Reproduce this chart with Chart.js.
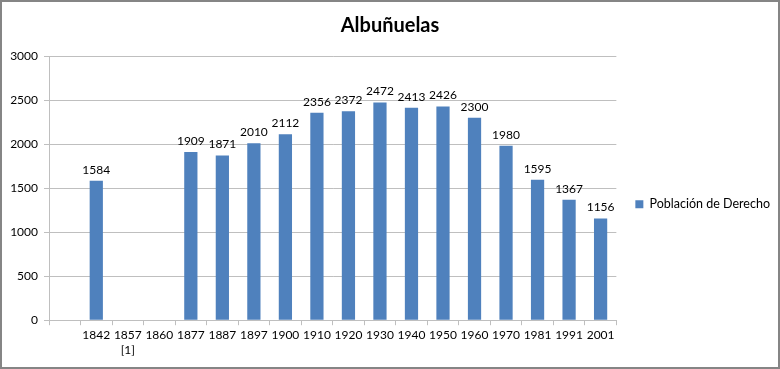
<!DOCTYPE html>
<html><head><meta charset="utf-8">
<script src="https://cdn.jsdelivr.net/npm/chart.js@4/dist/chart.umd.min.js"></script>
<style>html,body{margin:0;padding:0;background:#fff}#wrap{width:780px;height:369px;position:relative}</style>
</head><body><div id="wrap"><canvas id="c" width="780" height="369"></canvas></div>
<script>
const categories = ["", "1842", ["1857","[1]"], "1860", "1877", "1887", "1897", "1900", "1910", "1920", "1930", "1940", "1950", "1960", "1970", "1981", "1991", "2001"];
const poblacion = [null, 1584, null, null, 1909, 1871, 2010, 2112, 2356, 2372, 2472, 2413, 2426, 2300, 1980, 1595, 1367, 1156];
const yTicks = [0, 500, 1000, 1500, 2000, 2500, 3000];
const seriesName = "Población de Derecho";
const titleText = "Albuñuelas";

const FONT = "Lato, 'Open Sans', sans-serif";

const labelsPlugin = {
  id: 'valueLabels',
  afterDatasetsDraw(chart) {
    const ctx = chart.ctx;
    const meta = chart.getDatasetMeta(0);
    ctx.save();
    ctx.font = "12px " + FONT;
    ctx.fillStyle = "#000";
    ctx.textAlign = "center";
    ctx.textBaseline = "bottom";
    meta.data.forEach((el, i) => {
      const v = poblacion[i];
      if (v == null) return;
      ctx.fillText(String(v), el.x, el.y - 5);
    });
    ctx.restore();
  }
};
const borderPlugin = {
  id: 'outerBorder',
  beforeDraw(chart) {
    const ctx = chart.ctx;
    ctx.save();
    ctx.fillStyle = "#fff";
    ctx.fillRect(0, 0, chart.width, chart.height);
    ctx.restore();
  },
  afterDraw(chart) {
    const ctx = chart.ctx;
    ctx.save();
    ctx.strokeStyle = "#858585";
    ctx.lineWidth = 2;
    ctx.strokeRect(1, 1, chart.width - 2, chart.height - 2);
    ctx.restore();
  }
};

new Chart(document.getElementById('c'), {
  type: 'bar',
  data: {
    labels: categories,
    datasets: [{
      label: seriesName,
      data: poblacion,
      backgroundColor: '#4F81BD',
      borderWidth: 0,
      categoryPercentage: 1,
      barPercentage: 0.42
    }]
  },
  options: {
    responsive: false,
    animation: false,
    devicePixelRatio: 1,
    layout: { padding: { left: 0, right: 0, top: 10, bottom: 9 } },
    plugins: {
      title: { display: true, text: titleText, color: '#000', font: { family: FONT, size: 20, weight: 'bold' }, padding: { top: 4, bottom: 18 } },
      legend: {
        position: 'right',
        title: { display: true, text: ' ', font: { family: FONT, size: 12 }, padding: 12 },
        labels: { boxWidth: 8, boxHeight: 8, color: '#000', font: { family: FONT, size: 12.5 }, padding: 19 }
      },
      tooltip: { enabled: false }
    },
    scales: {
      x: {
        grid: { offset: true, drawOnChartArea: false, drawTicks: true, tickLength: 5, color: '#BFBFBF' },
        border: { color: '#BFBFBF' },
        ticks: { color: '#000', font: { family: FONT, size: 12 }, maxRotation: 0, autoSkip: false, padding: 3 }
      },
      y: {
        min: 0, max: 3000,
        afterBuildTicks(scale) { scale.ticks = yTicks.map(v => ({ value: v })); },
        afterFit(scale) { scale.width = 49; },
        grid: { color: '#BFBFBF', tickLength: 5, drawTicks: true },
        border: { display: true, color: '#BFBFBF' },
        ticks: { color: '#000', font: { family: FONT, size: 12 }, padding: 6, callback: v => String(v) }
      }
    }
  },
  plugins: [labelsPlugin, borderPlugin]
});
</script>
</body></html>
